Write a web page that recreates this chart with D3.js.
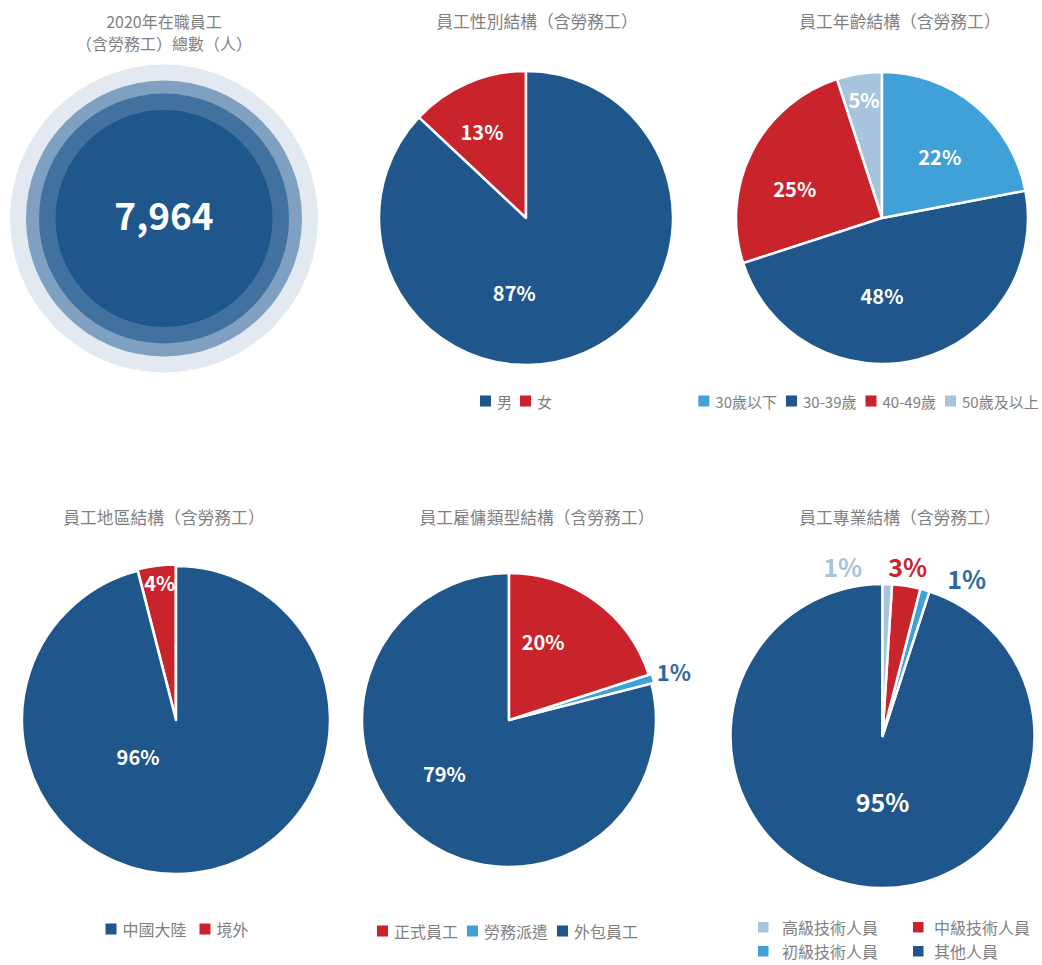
<!DOCTYPE html>
<html><head><meta charset="utf-8">
<script src="https://cdn.jsdelivr.net/npm/d3@7"></script>
<style>
html,body{margin:0;padding:0;background:#fff;}
svg{display:block;font-family:"Noto Sans CJK TC","Noto Sans",sans-serif;}
</style></head>
<body><svg id="c" width="1042" height="965"></svg>
<script>
// ---------- data ----------
const totalTitle = ["2020年在職員工", "（含勞務工）總數（人）"];
const totalValue = 7964;

const genderTitle = "員工性別結構（含勞務工）";
const genderCats = ["男", "女"];
const genderVals = [87, 13];

const ageTitle = "員工年齡結構（含勞務工）";
const ageCats = ["30歲以下", "30-39歲", "40-49歲", "50歲及以上"];
const ageVals = [22, 48, 25, 5];

const regionTitle = "員工地區結構（含勞務工）";
const regionCats = ["中國大陸", "境外"];
const regionVals = [96, 4];

const typeTitle = "員工雇傭類型結構（含勞務工）";
const typeCats = ["正式員工", "勞務派遣", "外包員工"];
const typeVals = [20, 1, 79];

const proTitle = "員工專業結構（含勞務工）";
const proCats = ["高級技術人員", "中級技術人員", "初級技術人員", "其他人員"];
const proVals = [1, 3, 1, 95];

// ---------- styles ----------
const DARK = "#1f568b", RED = "#c9232c", LIGHT = "#40a1d9", PALE = "#a7c4dc", MIDBLUE = "#2b69a6";
const GRAY = "#7f7f7f";

const svg = d3.select("#c");

// ---------- chart 1: total ----------
const t1 = svg.append("g");
t1.selectAll("text.tt").data(totalTitle).join("text")
  .attr("x", 164).attr("y", (d, i) => 21 + i * 22)
  .attr("text-anchor", "middle").attr("dominant-baseline", "central")
  .attr("font-size", 16).attr("fill", GRAY).text(d => d);
const rings = [{r: 154, c: "#e3e9f0"}, {r: 138, c: "#7fa0c0"}, {r: 125, c: "#41719f"}, {r: 108.5, c: DARK}];
t1.selectAll("circle").data(rings).join("circle")
  .attr("cx", 164).attr("cy", 218.5).attr("r", d => d.r).attr("fill", d => d.c);
t1.append("text").attr("x", 164).attr("y", 214).attr("text-anchor", "middle")
  .attr("dominant-baseline", "central").attr("font-size", 37).attr("font-weight", 700)
  .attr("fill", "#fff").text(d3.format(",")(totalValue));

// ---------- pie helper ----------
function drawPie(cfg) {
  const g = svg.append("g");
  g.append("text").attr("x", cfg.titleX).attr("y", cfg.titleY)
    .attr("text-anchor", "middle").attr("dominant-baseline", "central")
    .attr("font-size", 16.8).attr("fill", GRAY).text(cfg.title);

  const data = cfg.cats.map((c, i) => ({cat: c, val: cfg.vals[i], color: cfg.colors[i], i}));
  const pie = d3.pie().sort(null).value(d => d.val);
  const arcs = pie(data);
  const arc = d3.arc().innerRadius(0).outerRadius(cfg.r);
  const pg = g.append("g").attr("transform", `translate(${cfg.cx},${cfg.cy})`);

  // draw in reverse so earlier slices overlap later slices' labels
  const order = arcs.slice().reverse();
  order.forEach(a => {
    const sg = pg.append("g");
    const ex = (cfg.explode && cfg.explode[a.index]) || 0;
    const mid = (a.startAngle + a.endAngle) / 2;
    sg.append("path").attr("d", arc(a))
      .attr("transform", `translate(${Math.sin(mid) * ex},${-Math.cos(mid) * ex})`)
      .attr("fill", a.data.color).attr("stroke", "#fff").attr("stroke-width", 2.5)
      .attr("stroke-linejoin", "round");
    const L = cfg.labels[a.index];
    const ang = L.a * Math.PI / 180, rr = L.f * cfg.r;
    sg.append("text").attr("x", Math.sin(ang) * rr).attr("y", -Math.cos(ang) * rr)
      .attr("text-anchor", "middle").attr("dominant-baseline", "central")
      .attr("font-size", L.s).attr("font-weight", 700).attr("fill", L.c || "#fff")
      .text(a.data.val + "%");
  });

  // legend
  const lg = g.append("g");
  const fs = cfg.legendFs || 16;
  if (cfg.legendGrid) {
    const G = cfg.legendGrid;
    data.forEach((d, i) => {
      const col = i % 2, row = Math.floor(i / 2);
      const x = G.xs[col], y = G.ys[row];
      lg.append("rect").attr("x", x).attr("y", y - 5).attr("width", 10.5).attr("height", 10.5).attr("fill", d.color);
      lg.append("text").attr("x", x + G.tx[col]).attr("y", y).attr("dominant-baseline", "central")
        .attr("font-size", fs).attr("fill", GRAY).text(d.cat);
    });
  } else {
    const items = [];
    let x = 0;
    data.forEach(d => {
      const it = lg.append("g");
      it.append("rect").attr("x", 0).attr("y", cfg.legendY - 5.5).attr("width", 11).attr("height", 11).attr("fill", d.color);
      const t = it.append("text").attr("x", 17).attr("y", cfg.legendY).attr("dominant-baseline", "central")
        .attr("font-size", fs).attr("fill", GRAY).text(d.cat);
      const w = 17 + t.node().getComputedTextLength();
      items.push({it, x, w});
      x += w + cfg.legendGap;
    });
    const total = x - cfg.legendGap;
    const x0 = cfg.legendCx - total / 2;
    items.forEach(o => o.it.attr("transform", `translate(${x0 + o.x},0)`));
  }
}

drawPie({
  title: genderTitle, titleX: 537, titleY: 21, cats: genderCats, vals: genderVals,
  colors: [DARK, RED], cx: 526, cy: 218, r: 147,
  labels: [{a: 189, f: 0.51, s: 20}, {a: 333, f: 0.66, s: 20}],
  legendCx: 516, legendY: 401, legendGap: 8, legendFs: 15
});

drawPie({
  title: ageTitle, titleX: 900, titleY: 21, cats: ageCats, vals: ageVals,
  colors: [LIGHT, DARK, RED, PALE], cx: 882, cy: 218, r: 146,
  labels: [{a: 43, f: 0.58, s: 20}, {a: 180, f: 0.53, s: 20}, {a: 288.4, f: 0.63, s: 20}, {a: 351.3, f: 0.82, s: 20}],
  legendCx: 868.5, legendY: 401, legendGap: 9, legendFs: 15
});

drawPie({
  title: regionTitle, titleX: 164, titleY: 517, cats: regionCats, vals: regionVals,
  colors: [DARK, RED], cx: 176, cy: 720, r: 154,
  explode: [0, 1.5],
  labels: [{a: 226.5, f: 0.34, s: 20}, {a: 353.3, f: 0.9, s: 20}],
  legendCx: 177, legendY: 929, legendGap: 13
});

drawPie({
  title: typeTitle, titleX: 537, titleY: 517, cats: typeCats, vals: typeVals,
  colors: [RED, LIGHT, DARK], cx: 509, cy: 720, r: 147,
  explode: [0, 3, 0],
  labels: [{a: 23.6, f: 0.58, s: 20}, {a: 73.5, f: 1.17, s: 22, c: MIDBLUE}, {a: 230.4, f: 0.57, s: 20}],
  legendCx: 507.5, legendY: 931, legendGap: 9
});

drawPie({
  title: proTitle, titleX: 900, titleY: 517, cats: proCats, vals: proVals,
  colors: [PALE, RED, LIGHT, DARK], cx: 882.5, cy: 736, r: 152,
  labels: [{a: 346.8, f: 1.15, s: 25, c: PALE}, {a: 8.4, f: 1.13, s: 25, c: RED}, {a: 28, f: 1.18, s: 25, c: MIDBLUE}, {a: 180, f: 0.43, s: 25}],
  legendGrid: {xs: [758, 913], ys: [927, 951], tx: [24, 21]}
});
</script>
</body></html>
